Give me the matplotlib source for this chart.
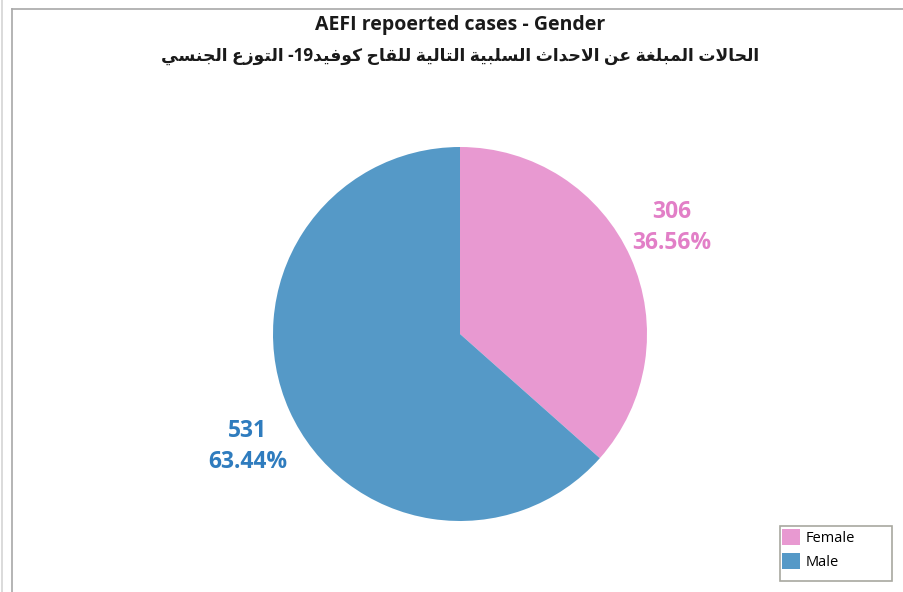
import matplotlib
matplotlib.use("Agg")
import matplotlib.pyplot as plt
from matplotlib.lines import Line2D
from matplotlib.patches import Patch, Rectangle

# Daten
labels = ["Female", "Male"]
counts = [306, 531]
percents = ["36.56%", "63.44%"]
colors = ["#e899d1", "#5599c7"]
text_colors = ["#e27fc7", "#2f7cbe"]

title_en = "AEFI repoerted cases - Gender"
title_ar = "الحالات المبلغة عن الاحداث السلبية التالية للقاح كوفيد19- التوزع الجنسي"

# Arabische Praesentationsformen: (isoliert, final, initial, medial)
FORMS = {
    "ا": (0xFE8D, 0xFE8E, None, None),
    "ب": (0xFE8F, 0xFE90, 0xFE91, 0xFE92),
    "ة": (0xFE93, 0xFE94, None, None),
    "ت": (0xFE95, 0xFE96, 0xFE97, 0xFE98),
    "ث": (0xFE99, 0xFE9A, 0xFE9B, 0xFE9C),
    "ج": (0xFE9D, 0xFE9E, 0xFE9F, 0xFEA0),
    "ح": (0xFEA1, 0xFEA2, 0xFEA3, 0xFEA4),
    "د": (0xFEA9, 0xFEAA, None, None),
    "ز": (0xFEAF, 0xFEB0, None, None),
    "س": (0xFEB1, 0xFEB2, 0xFEB3, 0xFEB4),
    "ع": (0xFEC9, 0xFECA, 0xFECB, 0xFECC),
    "غ": (0xFECD, 0xFECE, 0xFECF, 0xFED0),
    "ف": (0xFED1, 0xFED2, 0xFED3, 0xFED4),
    "ق": (0xFED5, 0xFED6, 0xFED7, 0xFED8),
    "ك": (0xFED9, 0xFEDA, 0xFEDB, 0xFEDC),
    "ل": (0xFEDD, 0xFEDE, 0xFEDF, 0xFEE0),
    "م": (0xFEE1, 0xFEE2, 0xFEE3, 0xFEE4),
    "ن": (0xFEE5, 0xFEE6, 0xFEE7, 0xFEE8),
    "و": (0xFEED, 0xFEEE, None, None),
    "ي": (0xFEF1, 0xFEF2, 0xFEF3, 0xFEF4),
}


def shape_arabic(s):
    """Buchstaben verbinden und fuer links-nach-rechts-Ausgabe umdrehen."""
    out = []
    i = 0
    prev_dual = False
    while i < len(s):
        ch = s[i]
        if ch not in FORMS:
            out.append(ch)
            prev_dual = False
            i += 1
            continue
        # Lam-Alef-Ligatur
        if ch == "ل" and i + 1 < len(s) and s[i + 1] == "ا":
            out.append(chr(0xFEFC if prev_dual else 0xFEFB))
            prev_dual = False
            i += 2
            continue
        f = FORMS[ch]
        dual = f[2] is not None
        nxt = s[i + 1] if i + 1 < len(s) else ""
        next_join = dual and nxt in FORMS
        if prev_dual and next_join:
            out.append(chr(f[3]))
        elif prev_dual:
            out.append(chr(f[1]))
        elif next_join:
            out.append(chr(f[2]))
        else:
            out.append(chr(f[0]))
        prev_dual = dual
        i += 1
    vis = "".join(reversed(out))
    # Ziffernfolgen bleiben links-nach-rechts
    res, run = "", ""
    for c in vis:
        if c.isdigit():
            run += c
        else:
            res += run[::-1] + c
            run = ""
    return res + run[::-1]


plt.rcParams["font.family"] = ["Open Sans", "DejaVu Sans"]

W, H = 904, 592
fig = plt.figure(figsize=(W / 100, H / 100), dpi=100)

# Rahmenlinien
fig.add_artist(Line2D([2.5 / W, 2.5 / W], [0, 1], color="#d4d4d4", lw=1.2))
fig.add_artist(Line2D([12.5 / W, 12.5 / W], [0, 1 - 9 / H], color="#a8a8a8", lw=1.2))
fig.add_artist(Line2D([12.5 / W, 1], [1 - 9 / H, 1 - 9 / H], color="#a8a8a8", lw=1.2))

cx, cy, r = 460, 334, 187
ax = fig.add_axes([(cx - r) / W, (H - cy - r) / H, 2 * r / W, 2 * r / H])
ax.pie(counts, colors=colors, startangle=90, counterclock=False,
       radius=1, wedgeprops=dict(linewidth=0))
ax.set_xlim(-1, 1)
ax.set_ylim(-1, 1)
ax.set_aspect("equal")
ax.axis("off")

label_pos = [(1.134, 0.569), (-1.134, -0.60)]
for (x, y), n, p, c in zip(label_pos, counts, percents, text_colors):
    ax.text(x, y, f"{n}\n{p}", ha="center", va="center", fontsize=16.5,
            fontweight="bold", color=c, linespacing=1.38, clip_on=False)

fig.text(460 / W, 1 - 25 / H, title_en, ha="center", va="center",
         fontsize=14, fontweight="bold", color="#1a1a1a")
fig.text(460 / W, 1 - 56 / H, shape_arabic(title_ar), ha="center", va="center",
         fontsize=12.3, fontweight="bold", color="#1a1a1a")

# Legende mit fester Rahmenbreite
fig.add_artist(Rectangle((780.5 / W, 1 - 580.5 / H), 112 / W, 55 / H,
                         transform=fig.transFigure, facecolor="white",
                         edgecolor="#a8a8a0", lw=1.2))
handles = [Patch(facecolor=c, edgecolor="none", label=l)
           for c, l in zip(colors, labels)]
leg = fig.legend(handles=handles, loc="upper left",
                 bbox_to_anchor=(782.5 / W, 1 - 529 / H), fontsize=10.5,
                 frameon=False, handlelength=1.22, handleheight=1.3,
                 handletextpad=0.4, borderpad=0, labelspacing=0.5,
                 borderaxespad=0)

fig.savefig("out.png", dpi=100)
